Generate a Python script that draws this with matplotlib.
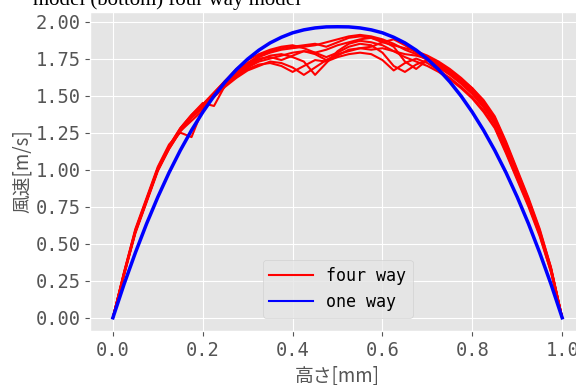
import numpy as np
import matplotlib
matplotlib.use("Agg")
import matplotlib.pyplot as plt
from matplotlib.lines import Line2D

# height positions (x axis), 0.025 step
height = [i / 40 for i in range(41)]

# one-way model velocity profile
one_way = [0.0, 0.228, 0.439, 0.635, 0.815, 0.980, 1.130, 1.266, 1.388, 1.497,
           1.593, 1.676, 1.747, 1.807, 1.856, 1.894, 1.924, 1.944, 1.957, 1.964,
           1.965, 1.964, 1.957, 1.944, 1.924, 1.894, 1.856, 1.807, 1.747, 1.676,
           1.593, 1.497, 1.388, 1.266, 1.130, 0.980, 0.815, 0.635, 0.439, 0.228, 0.0]

# four-way model velocity profiles (several samples)
four_way = [
    [0, .31, .59, .80, 1.01, 1.16, 1.28, 1.37, 1.44, 1.52, 1.60, 1.67, 1.72, 1.76,
     1.79, 1.81, 1.82, 1.83, 1.84, 1.86, 1.88, 1.90, 1.91, 1.90, 1.88, 1.85, 1.81,
     1.78, 1.74, 1.69, 1.64, 1.58, 1.51, 1.42, 1.31, 1.14, .96, .78, .58, .33, 0],
    [0, .29, .57, .78, .99, 1.14, 1.26, 1.35, 1.42, 1.50, 1.57, 1.63, 1.68, 1.71,
     1.72, 1.70, 1.66, 1.70, 1.74, 1.73, 1.76, 1.78, 1.79, 1.78, 1.74, 1.67, 1.72,
     1.75, 1.72, 1.67, 1.62, 1.56, 1.49, 1.40, 1.29, 1.12, .94, .76, .56, .31, 0],
    [0, .30, .58, .79, 1.00, 1.15, 1.27, 1.36, 1.43, 1.51, 1.58, 1.65, 1.70, 1.74,
     1.77, 1.78, 1.76, 1.73, 1.64, 1.72, 1.80, 1.85, 1.87, 1.86, 1.84, 1.80, 1.78,
     1.77, 1.75, 1.70, 1.65, 1.59, 1.52, 1.43, 1.32, 1.15, .97, .78, .57, .32, 0],
    [0, .30, .58, .79, 1.00, 1.15, 1.26, 1.33, 1.40, 1.50, 1.59, 1.66, 1.71, 1.75,
     1.76, 1.74, 1.77, 1.80, 1.79, 1.76, 1.79, 1.83, 1.85, 1.84, 1.79, 1.70, 1.66,
     1.71, 1.74, 1.71, 1.66, 1.60, 1.53, 1.44, 1.33, 1.16, .97, .78, .58, .33, 0],
    [0, .31, .60, .81, 1.02, 1.17, 1.25, 1.22, 1.41, 1.50, 1.58, 1.64, 1.69, 1.73,
     1.75, 1.77, 1.79, 1.80, 1.78, 1.74, 1.77, 1.81, 1.82, 1.83, 1.86, 1.88, 1.84,
     1.79, 1.76, 1.72, 1.67, 1.61, 1.54, 1.45, 1.34, 1.17, .98, .79, .58, .33, 0],
    [0, .30, .59, .80, 1.01, 1.16, 1.28, 1.37, 1.45, 1.43, 1.57, 1.66, 1.72, 1.77,
     1.80, 1.82, 1.83, 1.84, 1.85, 1.83, 1.86, 1.89, 1.90, 1.89, 1.87, 1.83, 1.73,
     1.68, 1.74, 1.72, 1.67, 1.61, 1.55, 1.46, 1.35, 1.18, .99, .80, .59, .34, 0],
    [0, .29, .58, .79, 1.00, 1.14, 1.26, 1.35, 1.42, 1.49, 1.56, 1.62, 1.67, 1.70,
     1.73, 1.72, 1.69, 1.64, 1.69, 1.74, 1.78, 1.80, 1.82, 1.81, 1.82, 1.80, 1.76,
     1.73, 1.70, 1.66, 1.61, 1.55, 1.48, 1.39, 1.28, 1.11, .93, .75, .55, .31, 0],
    [0, .30, .58, .79, 1.00, 1.15, 1.27, 1.36, 1.44, 1.52, 1.60, 1.68, 1.74, 1.78,
     1.81, 1.83, 1.84, 1.82, 1.79, 1.81, 1.84, 1.86, 1.88, 1.89, 1.86, 1.84, 1.82,
     1.80, 1.77, 1.73, 1.68, 1.62, 1.55, 1.47, 1.36, 1.19, 1.00, .81, .60, .34, 0],
]

xticks = [0.0, 0.2, 0.4, 0.6, 0.8, 1.0]
yticks = [0.00, 0.25, 0.50, 0.75, 1.00, 1.25, 1.50, 1.75, 2.00]

plt.style.use("ggplot")

fig = plt.figure(figsize=(5.76, 3.85), dpi=100)
ax = fig.add_axes([0.157, 0.140, 0.858, 0.829])

for prof in four_way:
    ax.plot(height, prof, color="red", lw=1.5)
ax.plot(height, one_way, color="blue", lw=2.5)

ax.set_xlim(-0.05, 1.05)
ax.set_ylim(-0.09, 2.065)
ax.set_xticks(xticks)
ax.set_xticklabels([f"{v:.1f}" for v in xticks], family="DejaVu Sans Mono", fontsize=13.5)
ax.set_yticks(yticks)
ax.set_yticklabels([f"{v:.2f}" for v in yticks], family="DejaVu Sans Mono", fontsize=13.5)

ax.set_xlabel("高さ[mm]", family=["Noto Sans CJK JP", "DejaVu Sans"], fontsize=13.5, labelpad=4)
ax.set_ylabel("風速[m/s]", family=["Noto Sans CJK JP", "DejaVu Sans"], fontsize=13.5, labelpad=2)

handles = [Line2D([], [], color="red", lw=1.5), Line2D([], [], color="blue", lw=1.5)]
ax.legend(handles, ["four way", "one way"], loc="lower center",
          prop={"family": "DejaVu Sans Mono", "size": 12}, handlelength=2.6,
          borderaxespad=0.8)

fig.text(0.057, 0.986, "model (bottom) four way model", family="Liberation Serif",
         fontsize=15, va="baseline", ha="left")

fig.savefig("out.png", dpi=100)
